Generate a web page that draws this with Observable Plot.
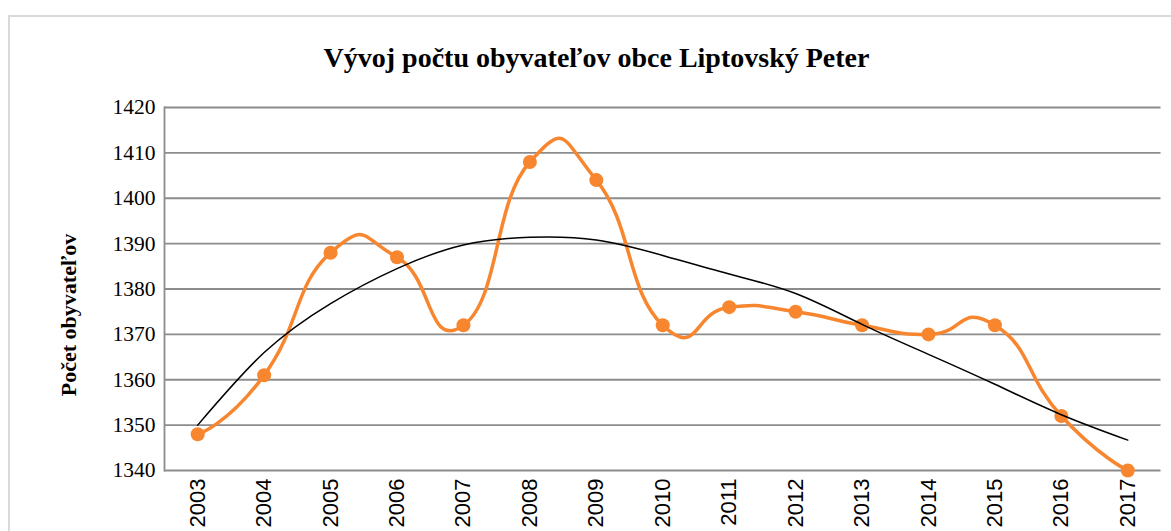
<!DOCTYPE html>
<html>
<head>
<meta charset="utf-8">
<script src="https://cdn.jsdelivr.net/npm/d3@7"></script>
<script src="https://cdn.jsdelivr.net/npm/@observablehq/plot@0.6"></script>
<style>
  body { margin: 0; background: #fff; }
  #wrap { position: relative; width: 1171px; height: 531px; overflow: hidden; }
  #frame { position: absolute; left: 8px; top: 15px; width: 1300px; height: 700px; border: 2px solid #d9d9d9; box-sizing: border-box; }
  #title { position: relative; height: 80px; width: 1193px; text-align: center; font-family: 'Liberation Serif', serif; font-weight: bold; font-size: 28px; line-height: 28px; padding-top: 44px; box-sizing: border-box; color: #000; }
  #chart { position: relative; }
</style>
</head>
<body>
<div id="wrap">
  <div id="frame"></div>
  <div id="title">Vývoj počtu obyvateľov obce Liptovský Peter</div>
  <div id="chart"></div>
</div>
<script>
const years = ["2003","2004","2005","2006","2007","2008","2009","2010","2011","2012","2013","2014","2015","2016","2017"];
const population = [1348,1361,1388,1387,1372,1408,1404,1372,1376,1375,1372,1370,1372,1352,1340];
const trend = [1350,1366,1376.8,1384.5,1389.7,1391.4,1390.8,1387.4,1383.3,1379,1372.2,1365.6,1359,1352.3,1346.7];
const yTicks = [1340,1350,1360,1370,1380,1390,1400,1410,1420];
const yLabel = "Počet obyvateľov";

const data = years.map((y, i) => ({year: y, value: population[i], trend: trend[i]}));
const orange = "#f7862f";
const gridColor = "#8c8c8c";
const serif = "'Liberation Serif', 'Times New Roman', serif";

const chart = Plot.plot({
  width: 1171,
  height: 451,
  marginTop: 27,
  marginBottom: 61,
  marginLeft: 164,
  marginRight: 10.5,
  style: {fontFamily: serif, background: "transparent", overflow: "visible", color: "#000"},
  x: {type: "point", domain: years, padding: 0.5, round: false},
  y: {domain: [1340, 1420]},
  marks: [
    Plot.gridY(yTicks, {stroke: gridColor, strokeOpacity: 1, strokeWidth: 1.8}),
    Plot.frame({anchor: "left", stroke: gridColor, strokeWidth: 1.8}),
    Plot.axisY(yTicks, {tickSize: 0, tickPadding: 9, fontSize: 21.5, fontFamily: serif, tickFormat: d => String(d), label: null}),
    Plot.axisX({tickSize: 0, tickRotate: -90, tickPadding: 8, fontSize: 22, fontFamily: "'Liberation Sans', Arial, sans-serif", label: null}),
    Plot.line(data, {x: "year", y: "value", curve: "cardinal", tension: -0.65, stroke: orange, strokeWidth: 3.5}),
    Plot.dot(data, {x: "year", y: "value", r: 7, fill: orange}),
    Plot.line(data, {x: "year", y: "trend", curve: "natural", stroke: "#000", strokeWidth: 1.5}),
    Plot.text([yLabel], {frameAnchor: "left", textAnchor: "middle", dx: -96, dy: 26, rotate: -90, fontWeight: "bold", fontSize: 22, fontFamily: serif})
  ]
});
document.getElementById("chart").appendChild(chart);
</script>
</body>
</html>
